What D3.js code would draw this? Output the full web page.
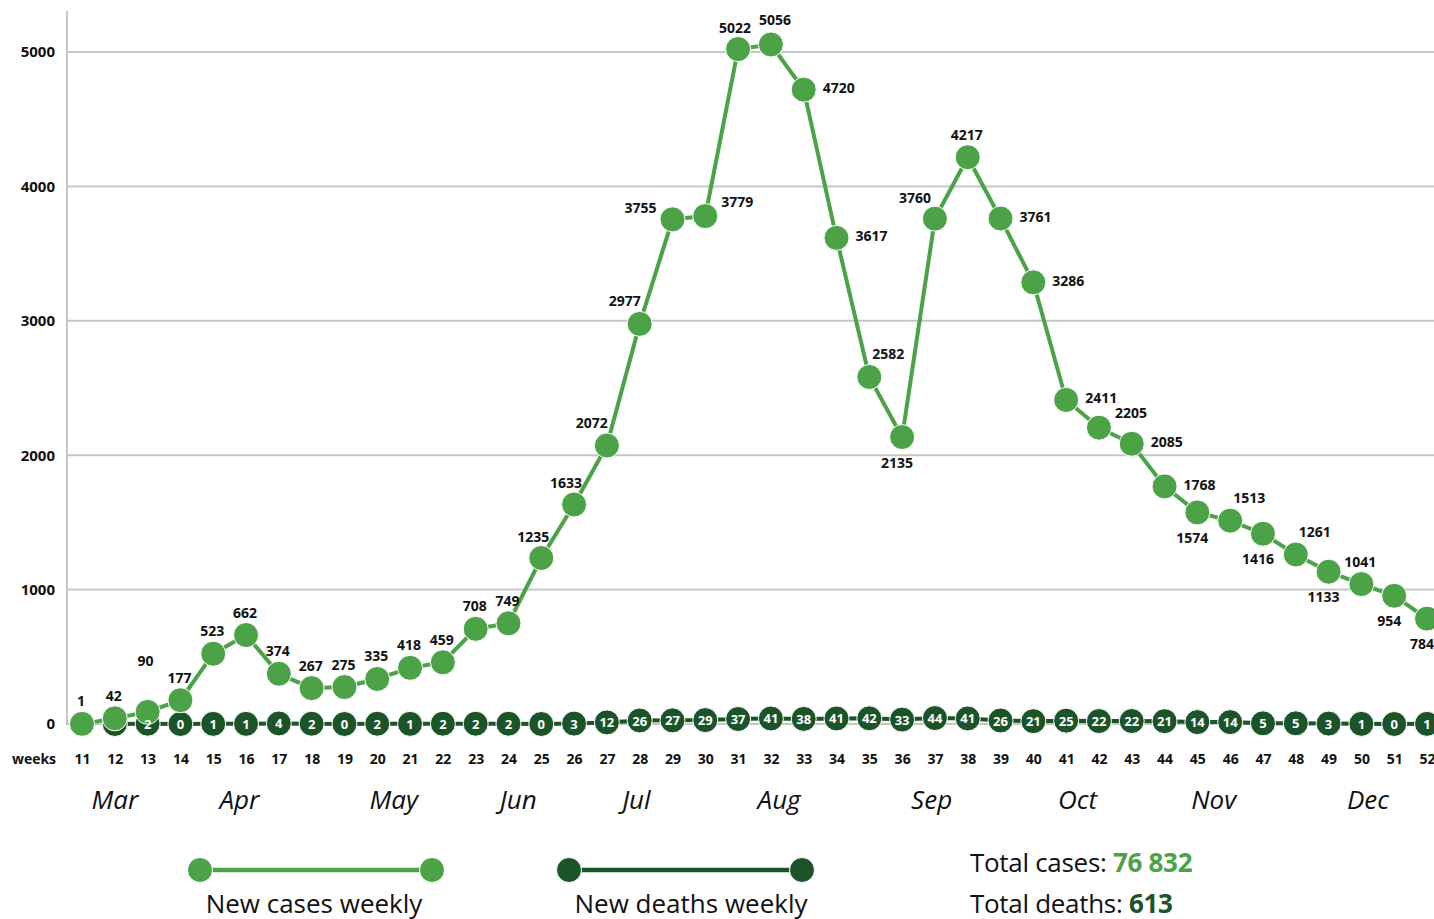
<!DOCTYPE html>
<html>
<head>
<meta charset="utf-8">
<script src="https://cdn.jsdelivr.net/npm/d3@7"></script>
<style>
  html, body { margin: 0; padding: 0; background: #fff; overflow: hidden; }
  svg { display: block; font-family: "Open Sans", "Noto Sans", sans-serif; }
</style>
</head>
<body>
<svg id="chart" width="1434" height="919"></svg>
<script>
// ---------------- DATA ----------------
const caseWeeks = d3.range(11, 53);
const newCases = [1, 42, 90, 177, 523, 662, 374, 267, 275, 335, 418, 459, 708, 749,
  1235, 1633, 2072, 2977, 3755, 3779, 5022, 5056, 4720, 3617, 2582, 2135, 3760, 4217,
  3761, 3286, 2411, 2205, 2085, 1768, 1574, 1513, 1416, 1261, 1133, 1041, 954, 784];
const deathWeeks = d3.range(12, 53);
const newDeaths = [0, 2, 0, 1, 1, 4, 2, 0, 2, 1, 2, 2, 2, 0, 3, 12, 26, 27, 29, 37, 41,
  38, 41, 42, 33, 44, 41, 26, 21, 25, 22, 22, 21, 14, 14, 5, 5, 3, 1, 0, 1];
// label placement code for each case point (style hint)
const caseLabelPlace = ["a","a","A","a","a","a","a","a","a","a","a","a","a","a",
  "as","as","al","al","l","R","aL","aU","r","r","ar","b","al2","a",
  "r","r","r","R","r","r","b","ar","b","ar","b","a","b","b"];
const yTicks = [0, 1000, 2000, 3000, 4000, 5000];
const months = ["Mar","Apr","May","Jun","Jul","Aug","Sep","Oct","Nov","Dec"];
const monthWeekPos = [12, 15.8, 20.5, 24.3, 27.9, 32.25, 36.9, 41.35, 45.5, 50.2];
const totalCases = "76 832";
const totalDeaths = "613";
const legendItems = ["New cases weekly", "New deaths weekly"];

// ---------------- STYLE ----------------
const CASE_COLOR = "#4ba247";
const DEATH_COLOR = "#1b5428";
const GRID_COLOR = "#c6c6c6";
const R = 12.5;
const placeOffsets = {
  a: [-1, -23], A: [-2, -51], as: [-8, -22], al: [-15, -23], al2: [-20, -21],
  l: [-32, -12], r: [35, -2], R: [32, -15], ar: [19, -23], b: [-5, 25],
  aL: [-3, -22], aU: [4, -25]
};

const svg = d3.select("#chart");

const x = d3.scaleLinear().domain([11, 52]).range([82, 1427]);
const y = d3.scaleLinear().domain([0, 5000]).range([724, 52]);

// gridlines
const grid = svg.append("g");
grid.selectAll("line").data(yTicks).join("line")
  .attr("x1", 67).attr("x2", 1434)
  .attr("y1", d => y(d)).attr("y2", d => y(d))
  .attr("stroke", GRID_COLOR).attr("stroke-width", 2);

// y axis line
svg.append("line")
  .attr("x1", 67).attr("x2", 67).attr("y1", 11).attr("y2", y(0) + 1)
  .attr("stroke", GRID_COLOR).attr("stroke-width", 2);

// y tick labels
const yAxis = d3.axisLeft(y).tickValues(yTicks).tickSize(0).tickPadding(12).tickFormat(d3.format("d"));
const yg = svg.append("g").attr("transform", "translate(67,0)").call(yAxis);
yg.select(".domain").remove();
yg.selectAll("text")
  .attr("font-family", "'Open Sans', sans-serif")
  .attr("font-size", 15).attr("font-weight", 700).attr("fill", "#111");

// x axis (weeks)
const xAxis = d3.axisBottom(x).tickValues(caseWeeks).tickSize(0).tickPadding(0).tickFormat(d3.format("d"));
const xg = svg.append("g").attr("transform", "translate(0,751)").call(xAxis);
xg.select(".domain").remove();
xg.selectAll("text")
  .attr("font-family", "'Open Sans', sans-serif")
  .attr("font-size", 14).attr("font-weight", 700).attr("fill", "#111")
  .attr("dy", "0.9em");
svg.append("text").attr("x", 34).attr("y", 764)
  .attr("text-anchor", "middle").attr("font-size", 14).attr("font-weight", 700)
  .attr("fill", "#111").text("weeks");

// months
svg.append("g").selectAll("text").data(months).join("text")
  .attr("x", (d, i) => x(monthWeekPos[i]))
  .attr("y", 809)
  .attr("text-anchor", "middle")
  .attr("font-size", 26).attr("font-style", "italic").attr("fill", "#111")
  .text(d => d);

// deaths series
const deathData = deathWeeks.map((w, i) => ({ w, v: newDeaths[i] }));
const caseData = caseWeeks.map((w, i) => ({ w, v: newCases[i], p: caseLabelPlace[i] }));

const line = d3.line().x(d => x(d.w)).y(d => y(d.v));

svg.append("path").datum(deathData)
  .attr("d", line).attr("fill", "none")
  .attr("stroke", DEATH_COLOR).attr("stroke-width", 4);
svg.append("g").selectAll("circle").data(deathData).join("circle")
  .attr("cx", d => x(d.w)).attr("cy", d => y(d.v)).attr("r", R)
  .attr("fill", DEATH_COLOR).attr("stroke", "#fff").attr("stroke-width", 1);

// cases series
svg.append("path").datum(caseData)
  .attr("d", line).attr("fill", "none")
  .attr("stroke", CASE_COLOR).attr("stroke-width", 4);
svg.append("g").selectAll("circle").data(caseData).join("circle")
  .attr("cx", d => x(d.w)).attr("cy", d => y(d.v)).attr("r", R)
  .attr("fill", CASE_COLOR).attr("stroke", "#fff").attr("stroke-width", 1);

// death labels (hidden where a case marker sits right on top)
const caseByWeek = new Map(caseData.map(d => [d.w, d]));
svg.append("g").selectAll("text")
  .data(deathData.filter(d => {
    const c = caseByWeek.get(d.w);
    return !c || Math.abs(y(c.v) - y(d.v)) > 8;
  }))
  .join("text")
  .attr("x", d => x(d.w)).attr("y", d => y(d.v))
  .attr("text-anchor", "middle").attr("dominant-baseline", "central")
  .attr("font-size", 13).attr("font-weight", 700).attr("fill", "#fff")
  .text(d => d.v);

// case labels
svg.append("g").selectAll("text").data(caseData).join("text")
  .attr("x", d => x(d.w) + placeOffsets[d.p][0])
  .attr("y", d => y(d.v) + placeOffsets[d.p][1])
  .attr("text-anchor", "middle").attr("dominant-baseline", "central")
  .attr("font-size", 14).attr("font-weight", 700).attr("fill", "#111")
  .text(d => d.v);

// legend
const legend = svg.append("g");
const legendColors = [CASE_COLOR, DEATH_COLOR];
const legendX = [[200, 432], [569, 802]];
const legendTextX = [314, 691];
legendItems.forEach((name, i) => {
  const [x1, x2] = legendX[i];
  legend.append("line").attr("x1", x1).attr("x2", x2).attr("y1", 870).attr("y2", 870)
    .attr("stroke", legendColors[i]).attr("stroke-width", 4.5);
  [x1, x2].forEach(cx => legend.append("circle").attr("cx", cx).attr("cy", 870).attr("r", R)
    .attr("fill", legendColors[i]).attr("stroke", "#fff").attr("stroke-width", 1));
  legend.append("text").attr("x", legendTextX[i]).attr("y", 913)
    .attr("text-anchor", "middle").attr("font-size", 26).attr("fill", "#111")
    .text(name);
});

const t1 = svg.append("text").attr("x", 970).attr("y", 872)
  .attr("font-size", 26).attr("fill", "#111").attr("letter-spacing", -0.3);
t1.append("tspan").text("Total cases: ");
t1.append("tspan").attr("font-weight", 700).attr("fill", CASE_COLOR).text(totalCases);
const t2 = svg.append("text").attr("x", 970).attr("y", 913)
  .attr("font-size", 26).attr("fill", "#111").attr("letter-spacing", -0.3);
t2.append("tspan").text("Total deaths: ");
t2.append("tspan").attr("font-weight", 700).attr("fill", DEATH_COLOR).text(totalDeaths);
</script>
</body>
</html>
